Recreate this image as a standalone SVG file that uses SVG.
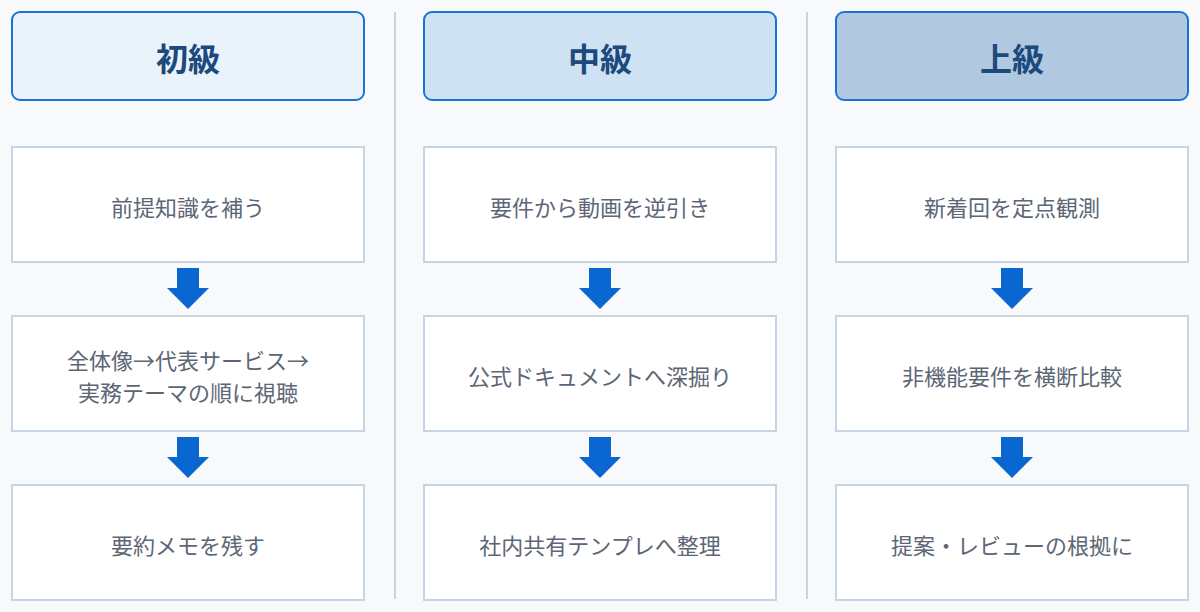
<svg xmlns="http://www.w3.org/2000/svg" width="1200" height="612" viewBox="0 0 1200 612">
<defs>
<style>
.bg{fill:#f8f9fa}
.head{stroke:#1a73d4;stroke-width:2}
.h1{fill:#eaf3fc}.h2{fill:#cfe2f3}.h3{fill:#b0c9e0}
.ht{font-family:"Noto Sans CJK JP",sans-serif;font-weight:700;font-size:32px;fill:#1c4a7c;text-anchor:middle;dominant-baseline:central}
.box{fill:#ffffff;stroke:#c6d4e3;stroke-width:2}
.bt{font-family:"Noto Sans CJK JP",sans-serif;font-size:22px;fill:#5c6675;text-anchor:middle;dominant-baseline:central}
.div{stroke:#c8d4e2;stroke-width:2}
.arr{fill:#0a66d0}
</style>
<path id="ar" d="M-11,0 H11 V20 H21 L0,41 L-21,20 H-11 Z"/>
</defs>
<rect class="bg" x="0" y="0" width="1200" height="612"/>
<g id="dividers">
<line class="div" x1="395" y1="12" x2="395" y2="599"/>
<line class="div" x1="807" y1="12" x2="807" y2="599"/>
</g>
<g id="col1-head"><rect class="head h1" x="12" y="12" width="352" height="88" rx="8"/><text class="ht" x="188" y="57">初級</text></g>
<g id="col2-head"><rect class="head h2" x="424" y="12" width="352" height="88" rx="8"/><text class="ht" x="600" y="57">中級</text></g>
<g id="col3-head"><rect class="head h3" x="836" y="12" width="352" height="88" rx="8"/><text class="ht" x="1012" y="57">上級</text></g>

<g id="c1n1"><rect class="box" x="12" y="147" width="352" height="115"/><text class="bt" x="188" y="206">前提知識を補う</text></g>
<g id="c1n2"><rect class="box" x="12" y="316" width="352" height="115"/><text class="bt" x="188" y="359">全体像→代表サービス→</text><text class="bt" x="188" y="391">実務テーマの順に視聴</text></g>
<g id="c1n3"><rect class="box" x="12" y="485" width="352" height="115"/><text class="bt" x="188" y="544">要約メモを残す</text></g>

<g id="c2n1"><rect class="box" x="424" y="147" width="352" height="115"/><text class="bt" x="600" y="206">要件から動画を逆引き</text></g>
<g id="c2n2"><rect class="box" x="424" y="316" width="352" height="115"/><text class="bt" x="600" y="375">公式ドキュメントへ深掘り</text></g>
<g id="c2n3"><rect class="box" x="424" y="485" width="352" height="115"/><text class="bt" x="600" y="544">社内共有テンプレへ整理</text></g>

<g id="c3n1"><rect class="box" x="836" y="147" width="352" height="115"/><text class="bt" x="1012" y="206">新着回を定点観測</text></g>
<g id="c3n2"><rect class="box" x="836" y="316" width="352" height="115"/><text class="bt" x="1012" y="375">非機能要件を横断比較</text></g>
<g id="c3n3"><rect class="box" x="836" y="485" width="352" height="115"/><text class="bt" x="1012" y="544">提案・レビューの根拠に</text></g>

<g id="connectors" class="arr">
<use href="#ar" x="188" y="268"/>
<use href="#ar" x="188" y="437"/>
<use href="#ar" x="600" y="268"/>
<use href="#ar" x="600" y="437"/>
<use href="#ar" x="1012" y="268"/>
<use href="#ar" x="1012" y="437"/>
</g>
</svg>
